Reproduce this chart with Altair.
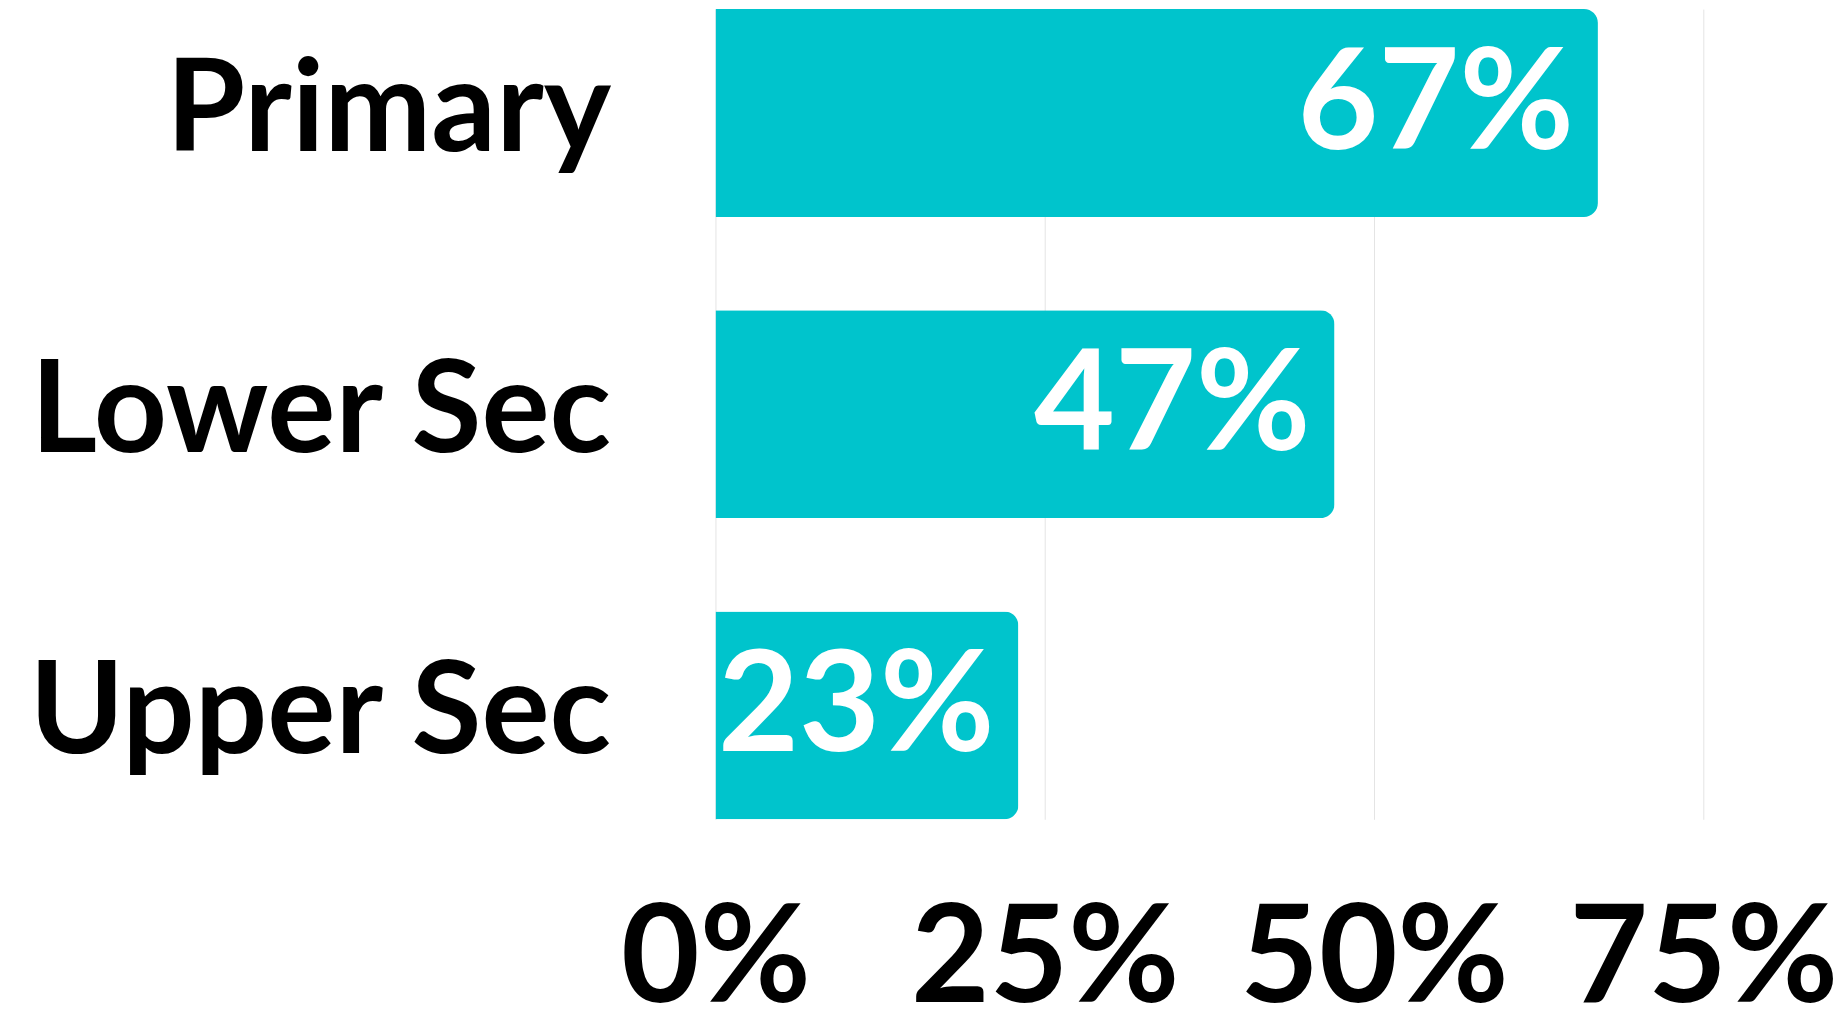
import altair as alt
import pandas as pd

categories = ["Primary", "Lower Sec", "Upper Sec"]
values = [0.67, 0.47, 0.23]
labels = ["67%", "47%", "23%"]
tick_values = [0, 0.25, 0.5, 0.75]

df = pd.DataFrame({"level": categories, "share": values, "label": labels})

FONT = "Lato"

y_enc = alt.Y(
    "level:N",
    sort=categories,
    title=None,
    scale=alt.Scale(paddingInner=0.31, paddingOuter=0),
    axis=alt.Axis(
        domain=False, ticks=False, grid=False,
        labelFont=FONT, labelFontSize=128, labelFontWeight="bold",
        labelColor="#000000", labelPadding=105, labelLimit=0,
    ),
)

x_enc = alt.X(
    "share:Q",
    title=None,
    scale=alt.Scale(domain=[0, 0.75], nice=False),
    axis=alt.Axis(
        values=tick_values, format=".0%", domain=False, ticks=False,
        grid=True, gridColor="#e4e4e4", gridWidth=1,
        labelFont=FONT, labelFontSize=136, labelFontWeight="bold",
        labelColor="#000000", labelPadding=76, labelFlush=False,
        labelOverlap=False, labelLimit=0,
    ),
)

bars = alt.Chart(df).mark_bar(color="#00C4CC", cornerRadiusEnd=14).encode(
    x=x_enc, y=y_enc
)

text = alt.Chart(df).mark_text(
    align="right", baseline="middle", dx=-24, dy=-6,
    font=FONT, fontSize=140, fontWeight="bold", color="#ffffff",
).encode(
    x=alt.X("share:Q"), y=alt.Y("level:N", sort=categories), text="label:N"
)

chart = (bars + text).properties(
    width=990, height=812,
    autosize=alt.AutoSizeParams(type="none"),
    padding={"left": 709, "top": 0, "right": 130, "bottom": 190},
).configure_view(stroke=None)

chart.save("out.html", embed_options={"renderer": "svg", "actions": False})
